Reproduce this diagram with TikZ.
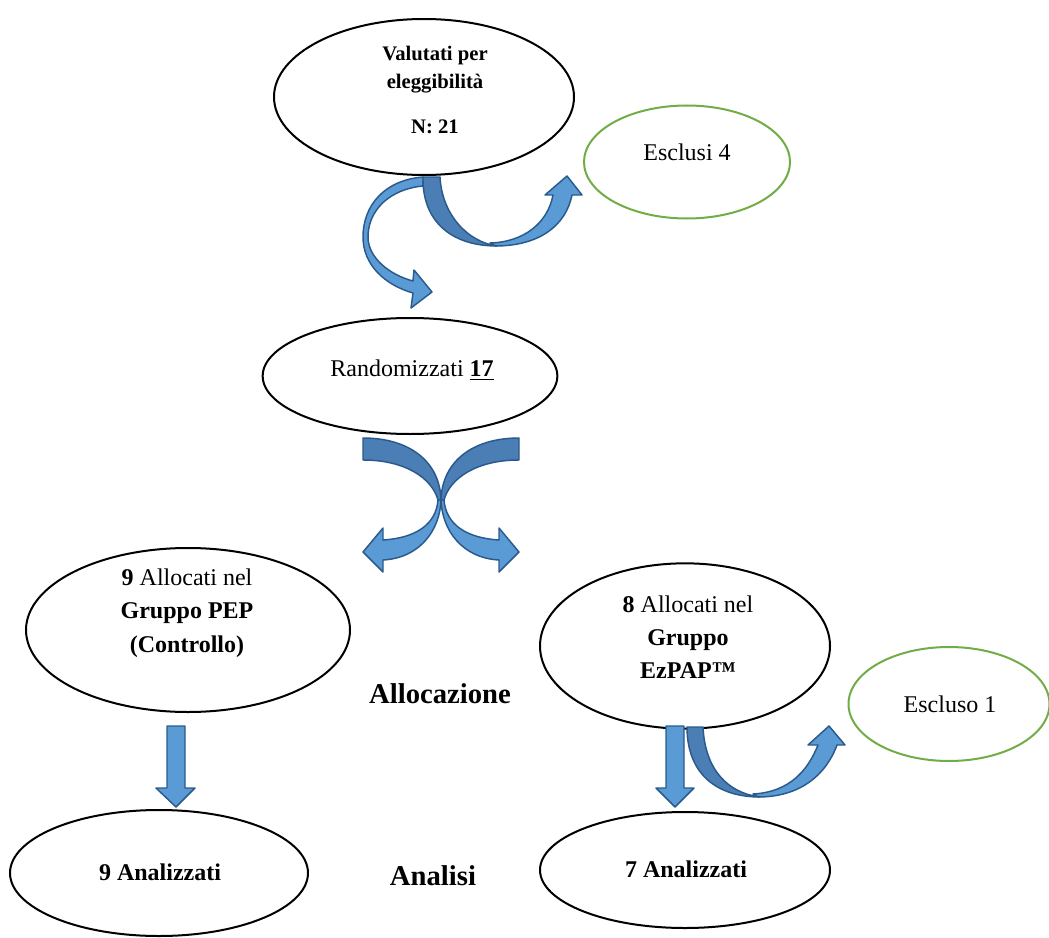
\documentclass[tikz,border=0pt]{standalone}
\usepackage{fontspec}
\setmainfont{Liberation Serif}
\usetikzlibrary{shapes.geometric}
\definecolor{darkblue}{HTML}{4A7EB5}
\definecolor{lightblue}{HTML}{5B9BD5}
\definecolor{edgeblue}{HTML}{2A5A8C}
\definecolor{ovgreen}{HTML}{70AD47}
\tikzset{
  oval/.style={ellipse, draw=black, line width=1.5pt, inner sep=0pt},
  greenoval/.style={ellipse, draw=ovgreen, line width=1.5pt, inner sep=0pt},
  txt/.style={align=center, inner sep=0pt, font=\fontsize{18}{25}\selectfont},
  smalltxt/.style={align=center, inner sep=0pt, font=\fontsize{15.5}{21}\selectfont\bfseries},
  bigtxt/.style={inner sep=0pt, font=\fontsize{21.5}{26}\selectfont\bfseries},
  darkpart/.style={fill=darkblue, draw=edgeblue, line width=1.1pt, line join=round},
  lightpart/.style={fill=lightblue, draw=edgeblue, line width=1.1pt, line join=round}
}
\begin{document}
\begin{tikzpicture}[x=0.75pt, y=-0.75pt]
\useasboundingbox (0,0) rectangle (1049,938);

% ellipses
\node[oval, minimum width=225pt, minimum height=117pt] (top) at (424,97) {};
\node[greenoval, minimum width=154.5pt, minimum height=84.75pt] (excl4) at (687,162) {};
\node[oval, minimum width=221pt, minimum height=87pt] (rand) at (410,376) {};
\node[oval, minimum width=243pt, minimum height=123pt] (pep) at (188,630) {};
\node[oval, minimum width=217.5pt, minimum height=124pt] (ezpap) at (685,646) {};
\node[greenoval, minimum width=150.75pt, minimum height=85.5pt] (excl1) at (949,704) {};
\node[oval, minimum width=223.5pt, minimum height=94.5pt] (anal9) at (159,873) {};
\node[oval, minimum width=217.5pt, minimum height=87pt] (anal7) at (685,870) {};

% texts
\node[smalltxt] (toptxt) at (435,70) {Valutati per\\eleggibilità};
\node[smalltxt] (topn) at (435,127) {N: 21};
\node[txt] (excl4txt) at (687,152) {Esclusi 4};
\node[txt] (randtxt) at (412,370) {Randomizzati \textbf{\underline{17}}};
\node[txt] (peptxt) at (187,613) {\textbf{9} Allocati nel\\\textbf{Gruppo PEP}\\\textbf{(Controllo)}};
\node[txt] (ezpaptxt) at (688,637) {\textbf{8} Allocati nel\\\textbf{Gruppo}\\\textbf{EzPAP™}};
\node[txt] (excl1txt) at (950,704) {Escluso 1};
\node[txt, font=\fontsize{18}{25}\selectfont\bfseries] (anal9txt) at (160,872) {9 Analizzati};
\node[txt, font=\fontsize{18}{25}\selectfont\bfseries] (anal7txt) at (686,869) {7 Analizzati};
\node[bigtxt] (alloc) at (440,694) {Allocazione};
\node[bigtxt] (analisi) at (433,876) {Analisi};

% curved arrow to Randomizzati
\path[lightpart] (423,177) .. controls (385,180) and (363,205) .. (363,237)
  .. controls (363,265) and (385,285) .. (413,293) -- (411,308) -- (432,292) -- (414,270) -- (413,281)
  .. controls (390,275) and (368,258) .. (368,237)
  .. controls (368,210) and (390,189) .. (423,186) -- cycle;
% curved arrow to Esclusi 4
\path[lightpart] (495,246) .. controls (540,246) and (566,225) .. (572,195) -- (582,195) -- (567,176)
  -- (545,195) -- (553,195) .. controls (548,222) and (525,242) .. (490,243) -- cycle;
\path[darkpart] (423,177) .. controls (422,220) and (450,246) .. (497,246)
  .. controls (468,242) and (442,215) .. (440,177) -- cycle;

% crossing arrows below Randomizzati
\path[darkpart] (363,438) .. controls (410,438) and (440,462) .. (441,500) -- (438,500)
  .. controls (432,478) and (405,460) .. (363,460) -- cycle;
\path[lightpart] (441,500) .. controls (440,530) and (420,558) .. (383,560) -- (383,572) -- (363,552)
  -- (383,528) -- (383,540) .. controls (415,538) and (436,525) .. (438,500) -- cycle;
\path[darkpart] (519,438) .. controls (472,438) and (442,462) .. (441,500) -- (444,500)
  .. controls (450,478) and (477,460) .. (519,460) -- cycle;
\path[lightpart] (441,500) .. controls (442,530) and (462,558) .. (499,560) -- (499,572) -- (519,552)
  -- (499,528) -- (499,540) .. controls (467,538) and (446,525) .. (444,500) -- cycle;

% straight down arrows
\path[lightpart] (167,726) -- (185,726) -- (185,788) -- (195,788) -- (176,807) -- (156,788) -- (167,788) -- cycle;
\path[lightpart] (666,726) -- (684,726) -- (684,788) -- (694,788) -- (675,807) -- (656,788) -- (666,788) -- cycle;

% curved arrow to Escluso 1
\path[lightpart] (758,797) .. controls (800,797) and (826,775) .. (837,745) -- (845,745) -- (829,726)
  -- (808,745) -- (818,745) .. controls (808,770) and (790,792) .. (753,794) -- cycle;
\path[darkpart] (687,727) .. controls (687,775) and (718,797) .. (760,797)
  .. controls (728,793) and (705,770) .. (703,727) -- cycle;
\end{tikzpicture}
\end{document}
